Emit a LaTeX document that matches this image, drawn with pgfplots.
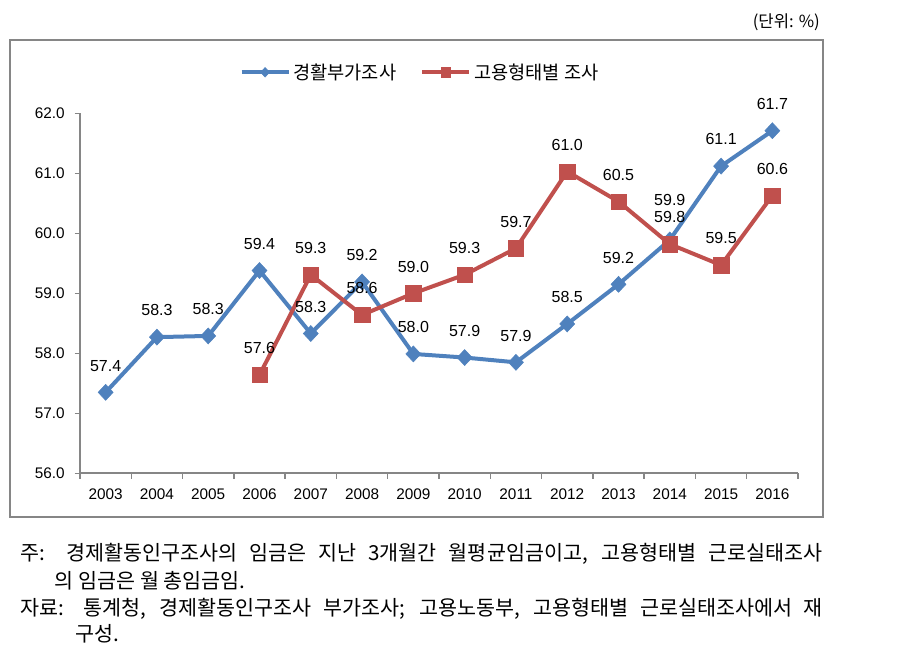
\documentclass[border=0pt]{standalone}
\usepackage{fontspec}
\setmainfont{Liberation Sans}
\newfontfamily\kr{Noto Sans CJK KR}
\usepackage{pgfplots}
\pgfplotsset{compat=1.18}
\definecolor{eblue}{HTML}{4F81BD}
\definecolor{ered}{HTML}{C0504D}
\definecolor{agray}{HTML}{868686}

\pgfplotstableread{
x y l
0 57.35 57.4
1 58.27 58.3
2 58.29 58.3
3 59.38 59.4
4 58.33 58.3
5 59.19 59.2
6 57.99 58.0
7 57.93 57.9
8 57.85 57.9
9 58.49 58.5
10 59.15 59.2
11 59.89 {}
12 61.12 61.1
13 61.71 61.7
}\blueT
\pgfplotstableread{
x y l
3 57.64 57.6
4 59.31 59.3
5 58.64 58.6
6 59.00 59.0
7 59.31 59.3
8 59.75 59.7
9 61.03 61.0
10 60.53 60.5
11 59.82 59.8
12 59.47 59.5
13 60.63 60.6
}\redT

\begin{document}
\begin{tikzpicture}
\path[use as bounding box] (0,0) rectangle (681.75pt,-491.25pt);
\draw[agray, line width=1.5pt] (7.5pt,-30pt) rectangle (617.25pt,-387.75pt);
\node[anchor=east, inner sep=0pt, font=\kr\fontsize{12.5}{14}\selectfont] at (615pt,-16.5pt) {(단위: \%)};
\begin{axis}[
  at={(60pt,-355pt)}, anchor=south west,
  scale only axis, width=538.5pt, height=270pt,
  xmin=-0.5, xmax=13.5, ymin=56, ymax=62,
  axis x line*=bottom, axis y line*=left,
  axis line style={agray, line width=1.3pt, -},
  clip=false,
  tick align=outside,
  xtick={0,1,2,3,4,5,6,7,8,9,10,11,12,13},
  xticklabels={2003,2004,2005,2006,2007,2008,2009,2010,2011,2012,2013,2014,2015,2016},
  major x tick style={draw=none},
  minor xtick={-0.5,0.5,1.5,2.5,3.5,4.5,5.5,6.5,7.5,8.5,9.5,10.5,11.5,12.5,13.5},
  minor x tick style={agray, line width=1pt},
  minor tick length=4pt,
  ytick={56,57,58,59,60,61,62},
  major y tick style={agray, line width=1pt},
  major tick length=4pt,
  yticklabel style={xshift=-4pt, /pgf/number format/.cd, fixed, fixed zerofill, precision=1, assume math mode=true},
  xticklabel style={/pgf/number format/assume math mode=true, yshift=-4pt},
  tick label style={font=\fontsize{11.5}{13}\selectfont, text=black},
  legend columns=2,
  legend style={at={(0.474,1.114)}, anchor=center, draw=none, fill=none,
    font=\kr\fontsize{14}{16}\selectfont, /tikz/every even column/.append style={column sep=16pt}},
  legend image code/.code={\draw[mark repeat=2,mark phase=2,#1, every mark/.append style={scale=0.6}] plot coordinates {(0cm,0cm) (0.62cm,0cm) (1.24cm,0cm)};},
  nodes near coords,
  point meta=explicit symbolic,
  every node near coord/.append style={font=\fontsize{12}{14}\selectfont, text=black, anchor=center, yshift=20pt},
]
\addplot[eblue, line width=3pt, mark=diamond*, mark size=6pt, mark options={line width=0.4pt, xscale=1.25}] table[x=x, y=y, meta=l] {\blueT};
\addlegendentry{경활부가조사}
\addplot[ered, line width=3pt, mark=square*, mark size=5.8pt, mark options={line width=0.4pt}] table[x=x, y=y, meta=l] {\redT};
\addlegendentry{고용형태별 조사}
\addplot[draw=none, mark=none, forget plot, every node near coord/.append style={yshift=10pt}] coordinates {(11,59.89) [59.9]};
\end{axis}
\begin{scope}[every node/.style={anchor=west, inner sep=0pt, font=\kr\fontsize{15.5}{17}\selectfont}]
\node at (15pt,-415pt) {\makebox[602pt][s]{주: 경제활동인구조사의 임금은 지난 3개월간 월평균임금이고, 고용형태별 근로실태조사}};
\node at (41pt,-435.5pt) {의 임금은 월 총임금임.};
\node at (15pt,-456.5pt) {\makebox[602pt][s]{자료: 통계청, 경제활동인구조사 부가조사; 고용노동부, 고용형태별 근로실태조사에서 재}};
\node at (56.5pt,-475.5pt) {구성.};
\end{scope}
\end{tikzpicture}
\end{document}
